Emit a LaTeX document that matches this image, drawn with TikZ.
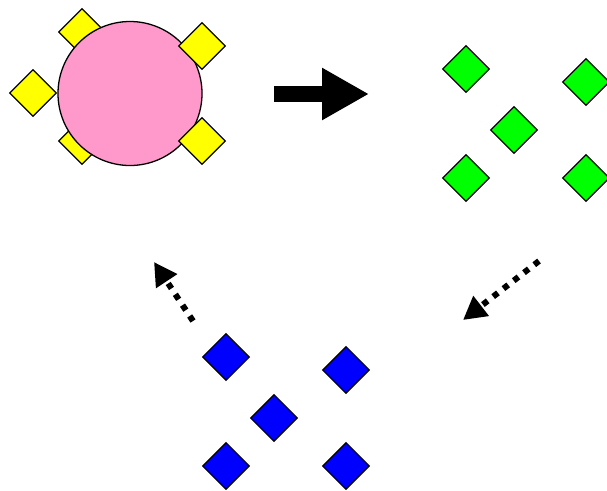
\documentclass[tikz,border=0pt]{standalone}
\usetikzlibrary{shapes.geometric,arrows.meta}
\definecolor{pinkc}{HTML}{FF99CC}
\definecolor{yelc}{HTML}{FFFF00}
\definecolor{grnc}{HTML}{00FF00}
\definecolor{bluc}{HTML}{0000FF}
\begin{document}
\begin{tikzpicture}[x=1pt,y=-1pt,
  dia/.style={diamond,draw=black,line width=1.3pt,minimum width=47pt,minimum height=47pt,inner sep=0pt,aspect=1},
  bigarrow/.style={line width=16pt,-{Triangle[length=47pt,width=49pt]}},
  dotarrow/.style={line width=6pt,dash pattern=on 6pt off 7pt,-{Triangle[length=23pt,width=24pt]}}]
\useasboundingbox (0,0) rectangle (607,490);
% top-left cluster
\node[dia,fill=yelc] (y1) at (82,32) {};
\node[dia,fill=yelc] (y2) at (82,141) {};
\node[circle,draw=black,line width=1.3pt,fill=pinkc,minimum size=144pt,inner sep=0pt] (c) at (130,93.5) {};
\node[dia,fill=yelc] (y3) at (33,93) {};
\node[dia,fill=yelc] (y4) at (202,46) {};
\node[dia,fill=yelc] (y5) at (202,141) {};
% green cluster
\node[dia,fill=grnc] (g1) at (466,69) {};
\node[dia,fill=grnc] (g2) at (586,82) {};
\node[dia,fill=grnc] (g3) at (514,130) {};
\node[dia,fill=grnc] (g4) at (466,178) {};
\node[dia,fill=grnc] (g5) at (586,178) {};
% blue cluster
\node[dia,fill=bluc] (b1) at (226,357) {};
\node[dia,fill=bluc] (b2) at (346,370) {};
\node[dia,fill=bluc] (b3) at (274,418) {};
\node[dia,fill=bluc] (b4) at (226,466) {};
\node[dia,fill=bluc] (b5) at (346,466) {};
% arrows
\coordinate (a1s) at (274,94);
\coordinate (a1e) at (369,94);
\draw[bigarrow] (a1s) -- (a1e);
\coordinate (a2s) at (539,261);
\coordinate (a2e) at (463,320);
\draw[dotarrow] (a2s) -- (a2e);
\coordinate (a3s) at (193,321);
\coordinate (a3e) at (154,262);
\draw[dotarrow] (a3s) -- (a3e);
\end{tikzpicture}
\end{document}
